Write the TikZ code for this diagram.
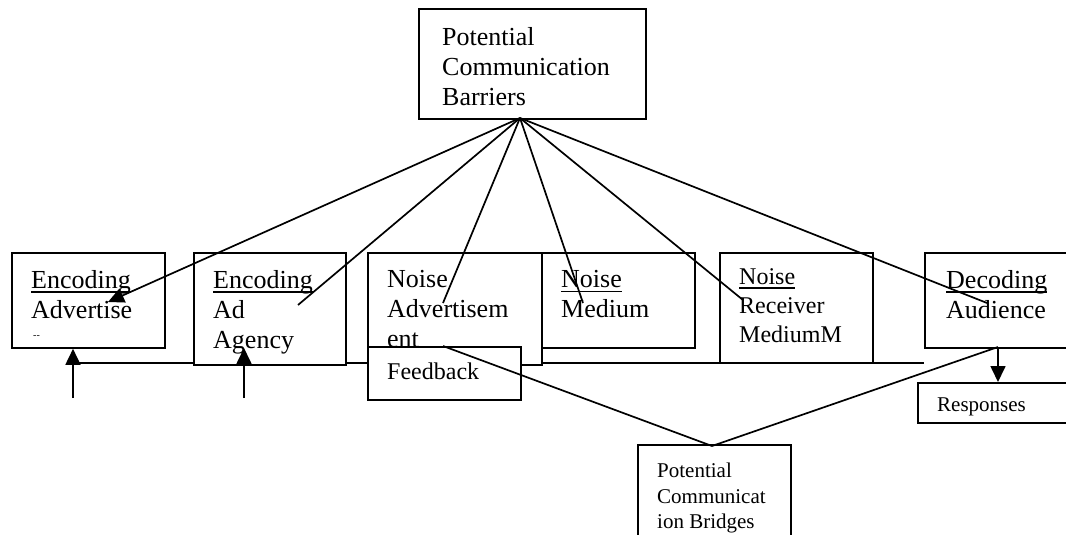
\documentclass[tikz,border=0pt]{standalone}
\usepackage{fontspec}
\setmainfont{Liberation Serif}
\usetikzlibrary{calc,arrows.meta}
\def\undl#1{\setbox0\hbox{#1}\rlap{\rule[-5pt]{\wd0}{1.8pt}}#1}
\def\Panel#1#2#3#4#5#6#7{%
 \node[panel, minimum width=#4pt, minimum height=#5pt] (#1) at (#2,#3) {};
 \node[panel text, #6] (#1-text) at ($(#1.north west)+(20,18)$) {#7};
}
\tikzset{panel/.style={draw=black, line width=1.8pt, fill=white, anchor=north west, inner sep=0pt},
    panel text/.style={anchor=north west, inner sep=0pt, align=left,
           font=\fontsize{26}{30}\selectfont},
    small text/.style={font=\fontsize{21}{25.5}\selectfont},
    link/.style={draw=black, line width=1.7pt},
    head/.style={-{Triangle[width=15pt,length=16pt]}}
}

\begin{document}
\begin{tikzpicture}[x=1pt, y=-1pt]
\clip (0,0) rectangle (1066,535);
\coordinate (bar-apex) at (520,118);
\coordinate (adv-tip) at (108,302);
\coordinate (agency-end) at (298,305);
\coordinate (ad-end) at (443,303);
\coordinate (med-end) at (583,303);
\coordinate (recv-end) at (743,300);
\coordinate (aud-end) at (987,303);
\coordinate (fb-left) at (73,363);
\coordinate (fb-right) at (924,363);
\coordinate (up-a) at (73,398);
\coordinate (up-b) at (244,398);
\coordinate (agency-tip) at (244,348);
\coordinate (aud-foot) at (998,347);
\coordinate (fb-top) at (443,346);
\coordinate (bridge-apex) at (712,446);
% feedback line behind the boxes
\draw[link] (fb-left) -- (fb-right);
\Panel{barriers}{418}{8}{227}{110}{xshift=4pt, yshift=-1pt}{Potential\\Communication\\Barriers}
\Panel{enc-adv}{11}{252}{153}{95}{}{\undl{Encoding}\\Advertise}
\Panel{enc-agency}{193}{252}{152}{112}{}{\undl{Encoding}\\Ad\\Agency}
\Panel{noise-ad}{367}{252}{174}{112}{}{Noise\\Advertisem\\ent}
\Panel{noise-med}{541}{252}{153}{95}{}{\undl{Noise}\\Medium}
\Panel{noise-recv}{719}{252}{153}{110}{yshift=2pt, font=\fontsize{24}{29}\selectfont}{\undl{Noise}\\Receiver\\MediumM}
\Panel{dec-aud}{924}{252}{160}{95}{xshift=2pt}{\undl{Decoding}\\Audience}
\Panel{feedback}{367}{346}{153}{53}{yshift=1pt, font=\fontsize{24}{29}\selectfont}{Feedback}
\Panel{responses}{917}{382}{170}{40}{small text, yshift=2pt}{Responses}
\Panel{bridges}{637}{444}{153}{110}{small text, yshift=-1pt}{Potential\\Communicat\\ion Bridges}
\node[anchor=base west, inner sep=0pt, font=\fontsize{10}{10}\selectfont] (adv-dash) at (33,338) {-{}-};
% barriers
\draw[link, head] (bar-apex) -- (adv-tip);
\foreach \e in {agency-end, ad-end, med-end, recv-end, aud-end}
  \draw[link] (bar-apex) -- (\e);
% feedback and responses
\draw[link, head] (up-a) -- (up-a |- enc-adv.south);
\draw[link, head] (up-b) -- (agency-tip);
\draw[link, head] (aud-foot) -- (aud-foot |- responses.north);
% bridges
\draw[link] (fb-top) -- (bridge-apex) -- (aud-foot);
\end{tikzpicture}
\end{document}
